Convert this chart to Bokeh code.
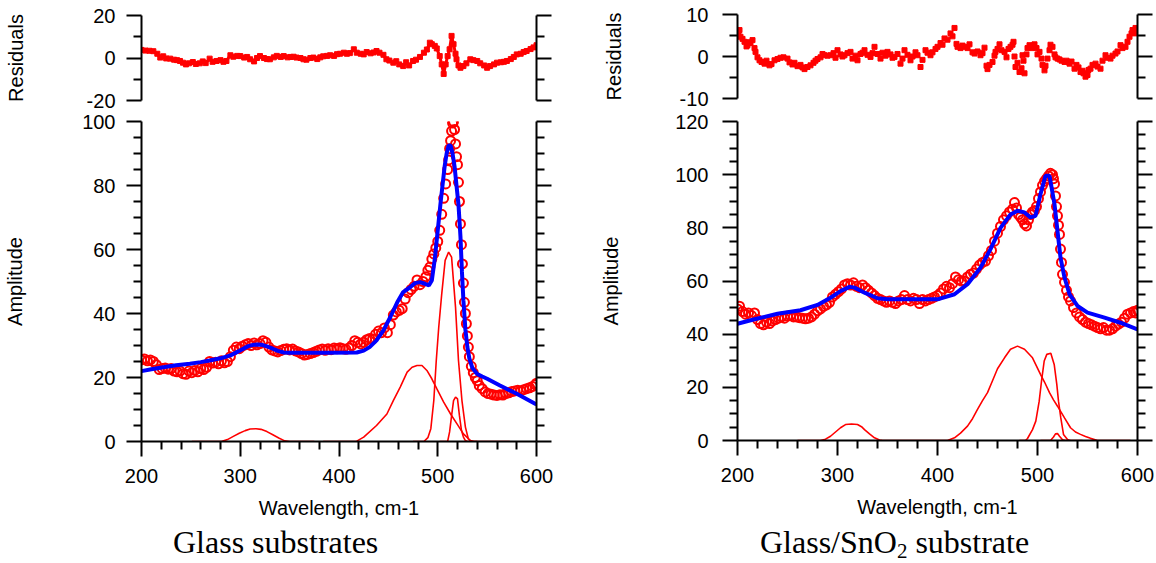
from bokeh.plotting import figure
from bokeh.models import LinearAxis, FixedTicker, Range1d, Div
from bokeh.layouts import row, column
from bokeh.embed import file_html
from bokeh.resources import INLINE

# ---------------- Glass substrates (left panel) ----------------
glass_data = [
    (200, 25.5), (203, 25.8), (206, 25.2), (209, 25.5), (212, 25.0), (215, 24.0), (218, 22.5), (221, 22.8), (224, 23.0), (227, 22.6),
    (230, 22.8), (233, 22.0), (236, 21.8), (239, 22.0), (242, 21.2), (245, 21.0), (248, 22.0), (251, 21.5), (254, 22.2), (257, 21.8),
    (260, 22.8), (263, 22.5), (266, 23.2), (269, 25.0), (272, 24.5), (275, 24.8), (278, 24.3), (281, 25.2), (284, 24.6), (287, 25.0),
    (290, 26.5), (293, 28.5), (296, 29.5), (299, 29.0), (302, 29.8), (305, 30.2), (308, 30.6), (311, 30.0), (314, 30.8), (317, 30.2),
    (320, 30.6), (323, 31.5), (326, 31.0), (329, 29.5), (332, 28.6), (335, 28.3), (338, 28.0), (341, 28.4), (344, 28.8), (347, 29.0),
    (350, 28.6), (353, 28.9), (356, 28.3), (359, 28.0), (362, 27.5), (365, 27.0), (368, 27.2), (371, 27.5), (374, 27.8), (377, 28.2),
    (380, 28.6), (383, 28.9), (386, 28.5), (389, 29.0), (392, 28.7), (395, 29.2), (398, 29.0), (401, 29.3), (404, 29.0), (407, 28.8),
    (410, 29.2), (413, 30.0), (416, 31.5), (419, 31.0), (422, 30.5), (425, 31.0), (428, 31.8), (431, 32.2), (434, 32.0), (437, 33.5),
    (440, 34.5), (443, 34.0), (446, 35.5), (449, 34.0), (452, 36.5), (455, 39.5), (458, 40.5), (461, 41.0), (464, 41.5), (467, 44.5),
    (470, 46.5), (473, 47.5), (476, 48.5), (479, 50.5), (482, 49.0), (485, 50.0), (488, 51.5), (490, 53.5), (492, 54.5), (494, 57.0),
    (496, 58.6), (498, 60.5), (500, 62.5), (502, 66.0), (504, 71.0), (506, 76.0), (508, 80.5), (510, 85.0), (511, 88.0), (512, 91.5),
    (513, 94.0), (514, 97.0), (515, 99.5), (516, 100.0), (517, 97.5), (518, 93.0), (519, 89.0), (520, 86.5), (521, 81.0), (522, 75.0),
    (523, 68.0), (524, 61.5), (525, 55.5), (526, 49.5), (527, 43.5), (528, 40.0), (529, 36.8), (530, 33.0), (531, 29.5), (532, 26.5),
    (534, 23.5), (536, 21.5), (538, 20.0), (540, 19.0), (542, 17.5), (545, 16.5), (548, 15.5), (551, 15.0), (554, 14.8), (557, 14.5),
    (560, 14.4), (563, 14.6), (566, 14.5), (569, 15.0), (572, 15.2), (575, 15.6), (578, 15.8), (581, 16.0), (584, 15.8), (587, 16.2),
    (590, 16.5), (593, 16.8), (596, 17.2), (599, 17.8), (600, 18.2),
]
glass_fit = [
    (200, 22.0), (210, 22.6), (222, 23.2), (235, 23.8), (249, 24.3), (260, 24.8), (269, 25.3), (280, 26.0), (290, 26.9), (297, 28.0),
    (303, 29.0), (308, 29.8), (313, 30.2), (318, 30.3), (322, 30.2), (327, 29.7), (333, 29.0), (338, 28.3), (344, 27.8), (350, 27.7),
    (357, 27.7), (391, 27.7), (418, 27.8), (425, 28.4), (431, 29.5), (438, 31.6), (445, 34.7), (452, 38.9), (459, 43.5), (465, 46.7),
    (472, 48.2), (477, 49.5), (482, 49.8), (487, 49.3), (491, 48.8), (494, 50.3), (497, 57.0), (499, 63.0), (501, 69.0), (503, 75.0),
    (505, 80.5), (507, 86.0), (509, 90.0), (511, 92.5), (513, 92.5), (515, 90.0), (517, 86.0), (519, 80.0), (521, 74.0), (523, 64.0),
    (524.5, 53.0), (526, 44.0), (528, 35.0), (530, 29.5), (532, 26.0), (535, 23.0), (540, 21.1), (545, 20.3), (550, 19.6), (563, 17.5),
    (580, 14.9), (600, 11.6),
]
glass_peak1 = [(251, 0), (281, 0), (287, 0.6), (293, 1.6), (299, 2.6), (305, 3.4), (310, 3.9), (316, 4.0), (321, 3.8), (327, 3.1),
               (333, 2.1), (339, 1.1), (345, 0.2), (350, 0), (375, 0)]
glass_peak2 = [(384, 0), (418, 0.1), (425, 1.35), (438, 5.0), (448.5, 8.6), (455, 12.8), (462, 17.0), (469, 21.7), (474, 23.2),
               (479, 23.75), (484, 23.75), (489, 22.2), (494, 19.6), (499, 16.5), (506, 12.3), (513, 8.6), (519.5, 5.5), (526, 2.4),
               (533, 0.3), (537, 0), (573, 0)]
glass_peak3 = [(475, 0), (486, 0), (490, 1.2), (493, 4.0), (496, 12.8), (498.5, 25.3), (501, 35.7), (504, 46.0), (507.5, 56.6),
               (511, 59.2), (514, 57.6), (518, 42.0), (521, 25.3), (524.5, 12.8), (528, 4.5), (531, 0.8), (534, 0), (540, 0)]
glass_peak4 = [(502, 0), (510, 0), (512, 3.0), (514, 8.0), (516, 12.8), (518, 13.9), (520, 13.3), (522, 8.0), (524, 3.5),
               (526, 1.4), (528, 0.3), (530, 0), (535, 0)]
glass_resid = [
    (200, 3.8), (204, 3.5), (208, 3.4), (212, 3.2), (216, 2.0), (219, 0.2), (222, 0.8), (225, -0.2), (229, -0.3), (233, -0.8),
    (236, -1.0), (239, -1.4), (242, -2.2), (245, -3.0), (248, -2.5), (252, -1.9), (255, -2.8), (259, -2.5), (262, -1.6), (265, -2.4),
    (269, -0.3), (272, -1.8), (276, -1.4), (280, -1.0), (283, -1.8), (286, -1.4), (290, 1.3), (293, 0.6), (297, 1.0), (300, 0.9),
    (304, 0.2), (307, 0.5), (310, -0.6), (314, -1.6), (317, 0.0), (320, 0.9), (324, 0.0), (327, -0.5), (330, -0.6), (334, 0.3),
    (337, 1.0), (341, 0.5), (344, 0.9), (348, 0.3), (351, 0.5), (354, 0.6), (357, 0.2), (361, 0.0), (364, -0.6), (367, -0.8),
    (371, 0.0), (374, 0.2), (378, -0.5), (381, 0.3), (384, 0.8), (388, 1.0), (391, 1.3), (395, 1.0), (398, 1.8), (401, 2.0),
    (405, 2.5), (408, 2.0), (411, 2.3), (415, 4.1), (418, 2.5), (422, 2.0), (425, 1.7), (428, 2.8), (432, 2.2), (435, 2.6),
    (438, 3.3), (441, 2.5), (445, 1.5), (448, -0.6), (451, -1.2), (455, -2.2), (458, -1.5), (461, -3.0), (465, -3.8), (468, -2.0),
    (471, -3.5), (475, -1.4), (478, -0.8), (482, 0.5), (486, 2.5), (489, 4.0), (492, 7.2), (494, 6.5), (497, 5.7), (499, 4.5),
    (502, 0.9), (504, -3.0), (506, -7.5), (508, -3.0), (510, 0.9), (512, 4.1), (514, 10.4), (516, 6.5), (518, 2.0), (519, -0.6),
    (521, -3.5), (523, -4.6), (526, -3.8), (529, -2.5), (533, -0.6), (536, -1.0), (540, -1.4), (543, -2.5), (547, -3.5), (550, -4.6),
    (553, -3.8), (557, -3.0), (560, -2.2), (564, -2.0), (567, -1.8), (570, -1.4), (574, -0.5), (577, 0.5), (580, 1.7), (584, 2.0),
    (587, 2.8), (590, 3.3), (594, 4.2), (597, 5.0), (600, 6.0),
]

# ---------------- Glass/SnO2 substrate (right panel) ----------------
sno2_data = [
    (200, 49.5), (202, 50.5), (205, 48.5), (208, 47.5), (211, 48.0), (214, 47.0), (217, 48.0), (220, 45.5), (223, 44.0), (226, 43.5),
    (229, 44.5), (232, 44.0), (235, 45.0), (238, 45.5), (241, 46.0), (244, 46.5), (247, 46.0), (250, 46.8), (253, 47.0), (256, 46.5),
    (259, 46.5), (262, 46.2), (265, 46.0), (268, 45.8), (271, 46.0), (274, 46.5), (277, 47.5), (280, 48.8), (283, 49.5), (286, 50.5),
    (289, 51.0), (292, 52.0), (295, 54.0), (298, 55.0), (301, 56.0), (304, 57.0), (307, 58.5), (310, 59.0), (313, 58.5), (316, 59.3),
    (319, 58.0), (322, 57.5), (325, 58.5), (328, 57.5), (331, 56.5), (334, 55.5), (337, 54.5), (340, 53.5), (343, 53.0), (346, 52.5),
    (349, 52.0), (352, 52.5), (355, 52.0), (358, 51.5), (361, 52.5), (364, 53.0), (367, 54.5), (370, 53.0), (373, 52.5), (376, 53.5),
    (379, 53.0), (382, 51.5), (385, 53.0), (388, 52.5), (391, 53.0), (394, 53.5), (397, 54.0), (400, 54.5), (403, 55.5), (406, 57.0),
    (409, 58.0), (412, 57.5), (415, 59.0), (418, 61.5), (421, 60.5), (424, 60.0), (427, 60.0), (430, 61.5), (433, 62.5), (436, 63.0),
    (439, 64.5), (442, 66.0), (445, 67.0), (448, 67.5), (451, 69.5), (454, 71.5), (457, 75.0), (460, 78.0), (463, 80.5), (466, 83.0),
    (469, 84.5), (472, 86.0), (475, 87.0), (477, 89.5), (479, 87.5), (481, 85.0), (483, 84.0), (485, 83.0), (487, 81.5), (489, 80.7),
    (491, 83.0), (493, 85.0), (495, 86.0), (497, 86.5), (499, 88.0), (501, 91.0), (503, 93.5), (505, 96.0), (507, 97.5), (509, 98.5),
    (511, 99.5), (513, 100.5), (515, 100.0), (516, 98.5), (517, 96.5), (518, 92.0), (519, 88.0), (520, 84.5), (521, 81.0), (522, 77.5),
    (523, 72.0), (524, 67.0), (525, 62.5), (527, 59.5), (529, 56.5), (531, 54.0), (533, 52.5), (536, 50.0), (539, 48.0), (542, 46.5),
    (545, 45.5), (548, 44.5), (551, 44.0), (554, 43.5), (557, 43.0), (560, 42.5), (563, 42.0), (566, 42.5), (569, 41.5), (572, 41.5),
    (575, 42.0), (578, 43.0), (581, 43.8), (584, 44.5), (587, 46.0), (590, 47.5), (593, 48.0), (596, 48.5), (598, 48.0), (600, 49.0),
]
sno2_fit = [
    (200, 43.9), (217, 45.6), (240, 47.7), (263, 49.0), (280, 51.0), (293, 53.7), (303, 56.2), (312, 57.8), (317, 57.5), (327, 55.6),
    (340, 53.5), (350, 53.1), (400, 53.1), (417, 55.0), (430, 58.8), (443, 65.0), (453, 72.0), (463, 80.0), (473, 85.0), (480, 86.4),
    (487, 85.8), (493, 83.9), (498, 84.5), (503, 92.7), (508, 99.6), (512, 99.6), (517, 88.9), (520, 78.8), (523, 68.8), (527, 61.3),
    (532, 55.0), (540, 50.6), (550, 48.1), (567, 46.2), (583, 44.3), (600, 41.8),
]
sno2_peak1 = [(260, 0), (283, 0), (288, 0.5), (293, 1.6), (298, 3.2), (303, 4.8), (308, 6.0), (314, 6.2), (320, 6.0), (324, 5.2),
              (327, 4.1), (332, 2.5), (337, 1.0), (342, 0.2), (345, 0), (397, 0)]
sno2_peak2 = [(397, 0), (410, 0), (417, 1.0), (423, 2.8), (430, 5.4), (435, 8.2), (440, 11.7), (445, 15.0), (450, 18.0), (455, 22.5),
              (460, 27.0), (467, 31.1), (473, 34.3), (480, 35.5), (487, 34.3), (495, 31.1), (503, 24.9), (507, 22.0), (512, 18.0),
              (516, 15.3), (520, 12.9), (527, 8.5), (533, 4.8), (538, 3.2), (543, 2.3), (548, 1.5), (553, 0.8), (560, 0), (593, 0)]
sno2_peak3 = [(482, 0), (488, 0), (490, 0.75), (495, 4.1), (498.3, 7.3), (501.7, 14.8), (504, 22.3), (506.7, 29.9), (509.3, 32.4),
              (513.3, 32.8), (516.7, 28.6), (519.3, 21.1), (521, 14.8), (523.3, 8.5), (526, 2.3), (530, 0.4), (532, 0), (545, 0)]
sno2_peak4 = [(503, 0), (513, 0), (516, 1.3), (518, 2.5), (520, 2.6), (522, 1.6), (525, 0.3), (528, 0), (533, 0)]
sno2_resid = [
    (201, 5.5), (202, 6.3), (203, 4.7), (205, 4.2), (207, 3.5), (209, 2.4), (210, 2.7), (212, 3.4), (213, 3.2), (215, 3.9),
    (217, 2.0), (218, 1.1), (220, -0.2), (222, -0.9), (224, -1.3), (227, -1.7), (229, -1.0), (232, -2.1), (234, -1.8), (237, -0.9),
    (240, -0.6), (243, -0.3), (246, -0.2), (250, -0.5), (252, -1.4), (255, -1.9), (257, -1.5), (260, -2.3), (263, -2.0), (265, -2.6),
    (267, -3.0), (270, -2.5), (273, -2.1), (276, -1.5), (278, -1.0), (280, -0.6), (283, -0.2), (285, 0.6), (287, 0.3), (290, 0.2),
    (293, 0.3), (296, 0.8), (298, -0.3), (300, 1.5), (303, 0.5), (305, 0.0), (307, 0.3), (310, 0.8), (313, 1.1), (315, -0.5),
    (318, 0.2), (320, -0.9), (323, 0.6), (325, 0.9), (327, 1.5), (330, 0.4), (333, -0.1), (335, 0.8), (337, 2.3), (340, 0.6),
    (343, -0.5), (345, 0.9), (348, 0.2), (350, 1.1), (353, 0.5), (355, -0.3), (357, -0.1), (360, 0.6), (363, -1.7), (365, -0.5),
    (367, 1.5), (370, 0.4), (373, -0.9), (375, 0.0), (378, 1.0), (380, 0.3), (383, -2.5), (385, -0.8), (388, 1.5), (390, 0.9),
    (393, 0.3), (395, 1.0), (398, 1.8), (400, 2.3), (403, 3.2), (405, 2.8), (407, 4.3), (410, 4.0), (413, 5.5), (415, 4.8),
    (417, 6.8), (419, 3.0), (420, 2.3), (423, 2.0), (425, 2.6), (427, 2.3), (430, 2.0), (432, 2.9), (435, 1.0), (437, 0.7),
    (440, 1.2), (443, 0.3), (445, 0.8), (447, 2.1), (449, -2.2), (450, -3.0), (452, -2.0), (455, -1.3), (457, 0.2), (458, 1.1),
    (460, 1.8), (462, 2.9), (464, 1.5), (467, 1.1), (469, -0.2), (471, 1.8), (473, 2.3), (475, 2.8), (476, 3.5), (477, 0.0),
    (478, -2.5), (480, -1.5), (482, -3.7), (484, -2.8), (485, 0.3), (486, -1.0), (487, -4.0), (489, 0.5), (490, 2.0), (492, 2.7),
    (494, 2.0), (495, 2.5), (497, 2.9), (499, 2.0), (500, 0.5), (502, 1.1), (504, -0.5), (505, -2.0), (507, -3.3), (508, -2.2),
    (510, -0.5), (512, 1.5), (513, 2.8), (515, 2.3), (517, 0.5), (518, -0.2), (520, -0.5), (522, -0.7), (524, -1.0), (527, -1.3),
    (529, -1.0), (532, -1.7), (534, -1.2), (537, -2.9), (539, -2.0), (541, -2.6), (543, -3.7), (545, -3.4), (546, -4.0), (548, -4.8),
    (550, -4.4), (551, -3.2), (553, -2.9), (555, -2.0), (558, -1.7), (560, -2.4), (563, -2.9), (565, -1.0), (568, 0.3), (570, -0.3),
    (573, -0.5), (575, 0.2), (578, 0.7), (580, 1.2), (583, 2.7), (585, 2.0), (588, 2.3), (590, 3.5), (592, 4.7), (594, 5.5),
    (595, 6.3), (597, 6.0), (598, 6.8), (599, 5.5),
]

# axis ticks
x_ticks = [200, 300, 400, 500, 600]
x_minor = [220, 240, 260, 280, 320, 340, 360, 380, 420, 440, 460, 480, 520, 540, 560, 580]
glass_amp_ticks = [0, 20, 40, 60, 80, 100]
sno2_amp_ticks = [0, 20, 40, 60, 80, 100, 120]
glass_res_ticks = [-20, 0, 20]
glass_res_minor = [-10, 10]
sno2_res_ticks = [-10, 0, 10]
sno2_res_minor = [-5, 5]

titles = ["Glass substrates", "Glass/SnO<span style=\"font-size:21px;vertical-align:-5px\">2</span> substrate"]


def xs(pts):
    return [p[0] for p in pts]


def ys(pts):
    return [p[1] for p in pts]


SANS = "Liberation Sans"
FS = "20px"
RED = "#ff0000"
BLUE = "#0000ff"


def style_axis(ax, show_labels=True, standoff=11):
    ax.axis_line_width = 2
    ax.axis_line_color = "black"
    ax.major_tick_line_width = 2
    ax.minor_tick_line_width = 2
    ax.major_tick_line_color = "black"
    ax.minor_tick_line_color = "black"
    ax.major_tick_in = 0
    ax.major_tick_out = 15
    ax.minor_tick_in = 0
    ax.minor_tick_out = 8
    ax.major_label_text_font = SANS
    ax.axis_label_text_font = SANS
    ax.axis_label_text_font_size = FS
    ax.axis_label_text_font_style = "normal"
    ax.axis_label_text_color = "black"
    if show_labels:
        ax.major_label_text_font_size = FS
        ax.major_label_text_color = "black"
        ax.major_label_standoff = standoff
    else:
        ax.major_label_text_font_size = "1px"
        ax.major_label_text_color = None
        ax.major_label_standoff = 0


def hyphen_labels(ticks):
    return {t: str(t) for t in ticks if t < 0}


def amp_minor(ticks):
    top = ticks[-1]
    return [v for v in range(0, top + 1, 5) if v not in ticks]


def base_fig(width, height, yr, left, right, top, bottom, with_x):
    p = figure(width=width, height=height, x_range=Range1d(200, 600), y_range=Range1d(*yr),
               output_backend="svg", toolbar_location=None,
               x_axis_location="below" if with_x else None,
               min_border_left=left, min_border_right=right,
               min_border_top=top, min_border_bottom=bottom)
    p.outline_line_color = None
    p.grid.visible = False
    p.background_fill_color = "white"
    p.border_fill_color = "white"
    return p


def resid_fig(width, left, right, top, frame_h, bottom, yr, ticks, minor, pts, tick_standoff, label_standoff, dense):
    p = base_fig(width, top + frame_h + bottom, yr, left, right, top, bottom, False)
    p.yaxis.ticker = FixedTicker(ticks=ticks, minor_ticks=minor)
    style_axis(p.yaxis[0], True, tick_standoff)
    p.yaxis.major_label_overrides = hyphen_labels(ticks)
    p.yaxis.axis_label = "Residuals"
    p.yaxis.axis_label_standoff = label_standoff
    rax = LinearAxis(ticker=FixedTicker(ticks=ticks, minor_ticks=minor))
    style_axis(rax, False)
    p.add_layout(rax, "right")
    if dense:
        p.line(xs(pts), ys(pts), line_color=RED, line_width=3)
    p.scatter(xs(pts), ys(pts), marker="square", size=5, fill_color=RED, line_color=RED)
    return p


def main_fig(width, left, right, top, frame_h, bottom, ymax, ticks, data, fit, peaks, tick_standoff, label_standoff):
    p = base_fig(width, top + frame_h + bottom, (0, ymax), left, right, top, bottom, True)
    p.xaxis.ticker = FixedTicker(ticks=x_ticks, minor_ticks=x_minor)
    style_axis(p.xaxis[0], True, 12)
    p.xaxis.axis_label = "Wavelength, cm-1"
    p.xaxis.axis_label_standoff = 11
    p.yaxis.ticker = FixedTicker(ticks=ticks, minor_ticks=amp_minor(ticks))
    style_axis(p.yaxis[0], True, tick_standoff)
    p.yaxis.axis_label = "Amplitude"
    p.yaxis.axis_label_standoff = label_standoff
    rax = LinearAxis(ticker=FixedTicker(ticks=ticks, minor_ticks=amp_minor(ticks)))
    style_axis(rax, False)
    p.add_layout(rax, "right")
    for pk in peaks:
        p.line(xs(pk), ys(pk), line_color=RED, line_width=1.6)
    p.scatter(xs(data), ys(data), marker="circle", size=9, fill_color=None, line_color=RED, line_width=2)
    p.line(xs(fit), ys(fit), line_color=BLUE, line_width=4)
    return p


def title_div(html, width, pad_left):
    return Div(text=('<div style="font-family:\'Liberation Serif\',serif;font-size:32px;line-height:32px;'
                     'white-space:nowrap;color:black;padding-left:%dpx">%s</div>' % (pad_left, html)),
               width=width, height=37, margin=(0, 0, 0, 0))


# left panel
resL = resid_fig(586, 141, 50, 15, 85, 12, (-20, 20), glass_res_ticks, glass_res_minor, glass_resid, 11, 57, True)
mainL = main_fig(586, 141, 50, 9, 320, 85, 100, glass_amp_ticks, glass_data, glass_fit,
                 [glass_peak1, glass_peak2, glass_peak3, glass_peak4], 11, 53)
titleL = title_div(titles[0], 586, 173)

# right panel
resR = resid_fig(570, 151, 19, 14, 84, 14, (-10, 10), sno2_res_ticks, sno2_res_minor, sno2_resid, 14, 52, False)
mainR = main_fig(570, 151, 19, 9, 319, 86, 120, sno2_amp_ticks, sno2_data, sno2_fit,
                 [sno2_peak1, sno2_peak2, sno2_peak3, sno2_peak4], 14, 50)
titleR = title_div(titles[1], 570, 174)

layout = row(column(resL, mainL, titleL), column(resR, mainR, titleR))

with open("out.html", "w") as f:
    f.write(file_html(layout, INLINE))
